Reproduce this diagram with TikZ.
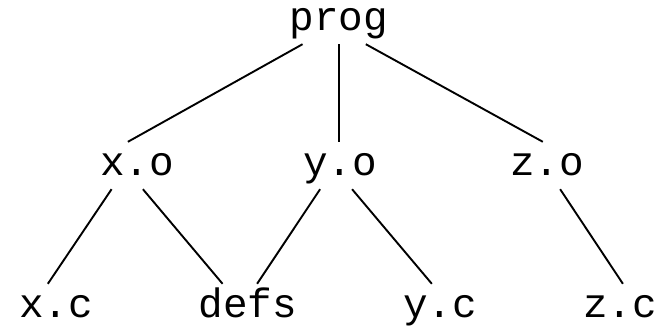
\documentclass[tikz,border=0pt]{standalone}
\usepackage{fontspec}
\setmonofont{Liberation Mono}
\usetikzlibrary{positioning}
\tikzset{
  file/.style={font=\ttfamily\fontsize{41}{41}\selectfont, inner sep=6pt,
               text height=27pt, text depth=8pt, anchor=base},
  topfile/.style={file, text height=20pt},
  dep/.style={line width=1.9pt, black},
}
\begin{document}
\begin{tikzpicture}[x=1pt, y=-1pt]
  \useasboundingbox (0,0) rectangle (656,325);
  % target
  \node[topfile] (prog) at (339,30) {prog};
  % objects
  \node[file] (xo) at (137,175) {x.o};
  \node[file] (yo) at (340,175) {y.o};
  \node[file] (zo) at (547,175) {z.o};
  % sources
  \node[file] (xc) at (56,317) {x.c};
  \node[file] (defs) at (248,317) {defs};
  \node[file] (yc) at (440,317) {y.c};
  \node[file] (zc) at (620,317) {z.c};

  \draw[dep] (prog.209) -- (xo.111);
  \draw[dep] (prog.south) -- (prog.south |- yo.north);
  \draw[dep] (prog.323) -- (zo.100);
  \draw[dep] (xo.223) -- (xc.109);
  \draw[dep] (xo.284) -- (defs.137);
  \draw[dep] (yo.230) -- (defs.69);
  \draw[dep] (yo.297) -- (yc.109);
  \draw[dep] (zo.299) -- (zc.83);
\end{tikzpicture}
\end{document}
